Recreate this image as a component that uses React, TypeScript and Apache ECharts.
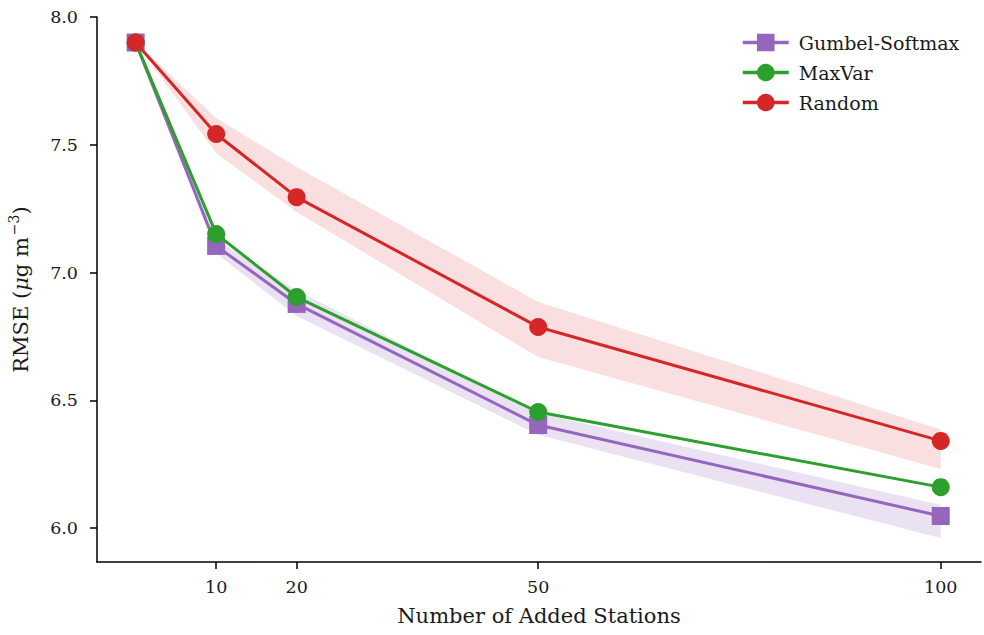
import React, { useEffect, useRef } from "react";
import * as echarts from "echarts";

const stations = [0, 10, 20, 50, 100];
const xTicks = [10, 20, 50, 100];
const yTicks = [6.0, 6.5, 7.0, 7.5, 8.0];

const gumbel = [7.9, 7.104, 6.877, 6.403, 6.047];
const gumbelLo = [7.9, 7.075, 6.83, 6.365, 5.961];
const gumbelHi = [7.9, 7.13, 6.93, 6.45, 6.09];

const maxvar = [7.9, 7.151, 6.904, 6.454, 6.16];

const random = [7.9, 7.542, 7.295, 6.787, 6.341];
const randomLo = [7.9, 7.468, 7.237, 6.669, 6.231];
const randomHi = [7.9, 7.605, 7.413, 6.885, 6.386];

const PURPLE = "#9467bd";
const GREEN = "#2ca02c";
const RED = "#d62728";
const FONT = "DejaVu Serif";
const TXT = "#1a1a1a";

function band(name: string, lo: number[], hi: number[], color: string, opacity: number) {
  return {
    type: "custom",
    name: name + "-band",
    silent: true,
    z: 1,
    data: [[0, 0]],
    renderItem: (params: any, api: any) => {
      const pts: number[][] = [];
      for (let i = 0; i < stations.length; i++) pts.push(api.coord([stations[i], hi[i]]));
      for (let i = stations.length - 1; i >= 0; i--) pts.push(api.coord([stations[i], lo[i]]));
      return {
        type: "polygon",
        shape: { points: pts },
        style: { fill: color, opacity },
      };
    },
  };
}

function line(name: string, vals: number[], color: string, symbol: string, z: number) {
  return {
    type: "line",
    name,
    z,
    data: stations.map((x, i) => [x, vals[i]]),
    symbol,
    symbolSize: 18,
    showAllSymbol: true,
    lineStyle: { color, width: 3 },
    itemStyle: { color, opacity: 1 },
  };
}

export default function App() {
  const ref = useRef<HTMLDivElement>(null);
  useEffect(() => {
    document.body.style.margin = "0";
    const chart = echarts.init(ref.current!, null, { renderer: "svg" });
    chart.setOption({
      animation: false,
      backgroundColor: "#ffffff",
      textStyle: { fontFamily: FONT },
      grid: { left: 97, right: 3, top: 17, bottom: 73, outerBoundsMode: "none", containLabel: false },
      legend: {
        orient: "vertical",
        left: 736,
        top: 28,
        itemWidth: 46,
        itemHeight: 22,
        itemGap: 11,
        lineStyle: { width: 3.5 },
        textStyle: { fontFamily: FONT, fontSize: 19, color: TXT, padding: [0, 0, 0, 5] },
        data: ["Gumbel-Softmax", "MaxVar", "Random"],
      },
      xAxis: {
        type: "value",
        min: -4.8,
        max: 105,
        name: "Number of Added Stations",
        nameLocation: "middle",
        nameGap: 43,
        nameTextStyle: { fontFamily: FONT, fontSize: 21, color: TXT },
        splitLine: { show: false },
        axisLine: { onZero: false, lineStyle: { color: "#000", width: 1.5 } },
        axisTick: { show: true, customValues: xTicks, length: 7, lineStyle: { color: "#000", width: 1.5 } },
        axisLabel: { customValues: xTicks, margin: 16, fontFamily: FONT, fontSize: 17.5, color: TXT },
      },
      yAxis: {
        type: "value",
        min: 5.867,
        max: 8.0,
        name: "{n|RMSE (}{i|μ}{n|g m}{s|−3}{n|)}",
        nameLocation: "middle",
        nameGap: 62,
        nameTextStyle: {
          fontFamily: FONT,
          fontSize: 21,
          color: TXT,
          rich: {
            n: { fontFamily: FONT, fontSize: 21, color: TXT, lineHeight: 28 },
            i: { fontFamily: FONT, fontSize: 21, color: TXT, fontStyle: "italic", lineHeight: 28 },
            s: { fontFamily: FONT, fontSize: 14, color: TXT, verticalAlign: "top", lineHeight: 28, padding: [0, 0, 10, 2] },
          },
        },
        splitLine: { show: false },
        axisLine: { show: true, onZero: false, lineStyle: { color: "#000", width: 1.5 } },
        axisTick: { show: true, customValues: yTicks, length: 7, lineStyle: { color: "#000", width: 1.5 } },
        axisLabel: {
          customValues: yTicks,
          margin: 19,
          fontFamily: FONT,
          fontSize: 17.5,
          color: TXT,
          formatter: (v: number) => v.toFixed(1),
        },
      },
      series: [
        band("Gumbel-Softmax", gumbelLo, gumbelHi, PURPLE, 0.2),
        band("Random", randomLo, randomHi, RED, 0.15),
        line("Gumbel-Softmax", gumbel, PURPLE, "rect", 3),
        line("MaxVar", maxvar, GREEN, "circle", 4),
        line("Random", random, RED, "circle", 5),
      ],
    });
    return () => chart.dispose();
  }, []);
  return <div ref={ref} style={{ width: 984, height: 635 }} />;
}
